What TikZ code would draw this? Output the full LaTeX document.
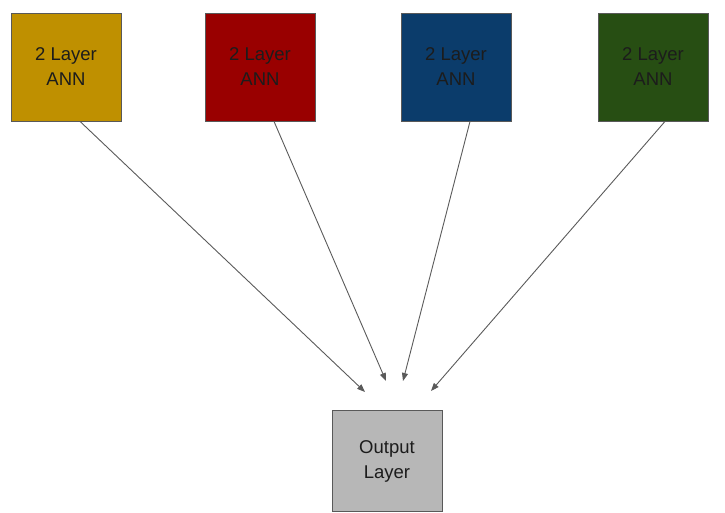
\documentclass[tikz,border=0pt]{standalone}
\usepackage{fontspec}
\setmainfont{Liberation Sans}
\usetikzlibrary{arrows.meta}
\definecolor{cyel}{HTML}{BF9000}
\definecolor{cred}{HTML}{990000}
\definecolor{cblu}{HTML}{0B3C6B}
\definecolor{cgrn}{HTML}{274E13}
\definecolor{cgry}{HTML}{B7B7B7}
\definecolor{cedge}{HTML}{595959}
\definecolor{ctxt}{HTML}{1C1C1C}
\definecolor{carr}{HTML}{5A5A5A}
\begin{document}
\begin{tikzpicture}[x=1pt,y=-1pt,
  annbox/.style={draw=cedge, line width=0.8pt, minimum width=110pt, minimum height=108pt,
    inner sep=0pt, align=center, text=ctxt, font=\fontsize{18.5}{25}\selectfont},
  link/.style={draw=carr, line width=0.9pt, -{Triangle[length=8pt,width=6pt]}}]
\useasboundingbox (0,0) rectangle (725,512);
\node[annbox, fill=cyel] (a) at (66,67) {2 Layer\\ANN};
\node[annbox, fill=cred] (b) at (260,67) {2 Layer\\ANN};
\node[annbox, fill=cblu] (c) at (456,67) {2 Layer\\ANN};
\node[annbox, fill=cgrn] (d) at (653,67) {2 Layer\\ANN};
\node[annbox, fill=cgry, minimum height=101pt] (o) at (387,461) {Output\\Layer};
\coordinate (ea) at (365,392);
\coordinate (eb) at (386,381);
\coordinate (ec) at (403,381);
\coordinate (ed) at (431,391);
\draw[link] ([xshift=14pt]a.south) -- (ea);
\draw[link] ([xshift=14pt]b.south) -- (eb);
\draw[link] ([xshift=14pt]c.south) -- (ec);
\draw[link] ([xshift=12pt]d.south) -- (ed);
\end{tikzpicture}
\end{document}
